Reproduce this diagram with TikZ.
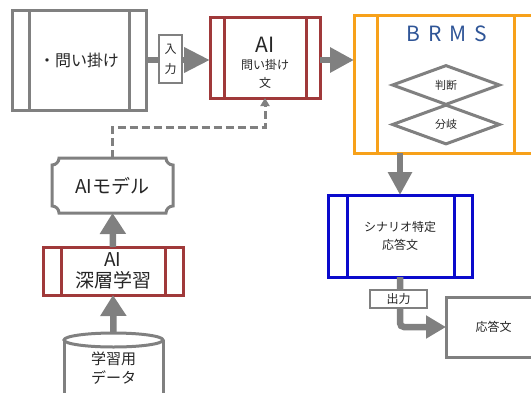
\documentclass[tikz,border=0pt]{standalone}
\usepackage{fontspec}
\setmainfont{Noto Sans CJK JP}
\usetikzlibrary{arrows.meta,shapes.geometric,calc}
\definecolor{gline}{HTML}{808080}
\definecolor{dred}{HTML}{A0393A}
\definecolor{orng}{HTML}{F7A11A}
\definecolor{bblue}{HTML}{0A0ACC}
\definecolor{brmsblue}{HTML}{2F5597}
\definecolor{txt}{HTML}{262626}
\begin{document}
\begin{tikzpicture}[x=1pt,y=-1pt,
  box/.style={draw=#1, line width=3pt, fill=white, inner sep=0pt, outer sep=0pt, align=center, text=txt},
  inner/.style={draw=#1, line width=3pt},
  fat/.style={draw=gline, line width=6.5pt, -{Triangle[length=24pt,width=24pt]}, color=gline},
  tag/.style={draw=gline, line width=2.5pt, fill=white, inner sep=0pt, outer sep=0pt, align=center, text=txt},
  dia/.style={draw=gline, line width=3pt, diamond, aspect=2.7, inner sep=0pt, minimum width=108pt, minimum height=40pt, text=txt, font=\fontsize{11}{11}\selectfont},
  dashln/.style={draw=gline, line width=3pt, dash pattern=on 8pt off 4pt, -{Triangle[length=8pt,width=9pt]}}]
\useasboundingbox (0,0) rectangle (531,392);
\clip (0,0) rectangle (531,392);

% top-left input box
\node[box=gline, minimum width=134pt, minimum height=100pt, font=\fontsize{16}{16}\selectfont] (q) at (79,60) {・問い掛け};
\draw[inner=gline] ([xshift=17pt]q.north west) -- ([xshift=17pt]q.south west);
\draw[inner=gline] ([xshift=-17pt]q.north east) -- ([xshift=-17pt]q.south east);

% AI box
\node[box=dred, minimum width=110pt, minimum height=81pt] (ai) at (265,57.5) {};
\draw[inner=dred] ([xshift=14pt]ai.north west) -- ([xshift=14pt]ai.south west);
\draw[inner=dred] ([xshift=-14pt]ai.north east) -- ([xshift=-14pt]ai.south east);
\node[text=txt, align=center, inner sep=0pt, font=\fontsize{12}{17}\selectfont] (ait) at (265,63)
  {{\fontsize{21}{21}\selectfont AI}\\[0pt]問い掛け\\[0.5pt]文};

\draw[fat, -{Triangle[length=26pt,width=24pt]}] (q.east) -- (q.east -| ai.west);
\node[tag, minimum width=23pt, minimum height=48pt, font=\fontsize{12}{20}\selectfont] (inp) at (170.5,59) {入\\力};

% BRMS
\node[box=orng, minimum width=183pt, minimum height=138pt] (brms) at (445.5,84) {};
\draw[inner=orng] ([xshift=23pt]brms.north west) -- ([xshift=23pt]brms.south west);
\draw[inner=orng] ([xshift=-23pt]brms.north east) -- ([xshift=-23pt]brms.south east);
\node[text=brmsblue, font=\fontsize{21}{21}\selectfont] (brmst) at (447,34) {B\hspace{8pt}R\hspace{8pt}M\hspace{8pt}S};
\node[dia] (d1) at (446,85) {判断};
\node[dia] (d2) at (446,124.5) {分岐};

\draw[fat] (ai.east |- q.east) -- (brms.west |- q.east);

% scenario box
\node[box=bblue, minimum width=144pt, minimum height=82pt, font=\fontsize{12}{18}\selectfont] (sc) at (400,236) {シナリオ特定\\応答文};
\draw[inner=bblue] ([xshift=19pt]sc.north west) -- ([xshift=19pt]sc.south west);
\draw[inner=bblue] ([xshift=-18pt]sc.north east) -- ([xshift=-18pt]sc.south east);
\draw[fat, -{Triangle[length=23pt,width=23pt]}] (sc.north |- brms.south) -- (sc.north);

% response box
\node[box=gline, minimum width=95pt, minimum height=60pt, font=\fontsize{12}{12}\selectfont] (rs) at (493.5,327) {応答文};
\draw[fat, rounded corners=4pt, -{Triangle[length=20pt,width=22pt]}] (sc.south) |- (rs.west);
\node[tag, minimum width=57pt, minimum height=18pt, font=\fontsize{12}{12}\selectfont] (out) at (398.5,299) {出力};

% AI model (plaque shape)
\draw[gline, line width=3pt, fill=white]
  (59,158) -- (166,158) .. controls (166,161.9) and (169.1,165) .. (173,165)
  -- (173,206) .. controls (169.1,206) and (166,209.1) .. (166,213)
  -- (59,213) .. controls (59,209.1) and (55.9,206) .. (52,206)
  -- (52,165) .. controls (55.9,165) and (59,161.9) .. (59,158) -- cycle;
\node[minimum width=121pt, minimum height=55pt, inner sep=0pt, outer sep=0pt, text=txt, font=\fontsize{19}{19}\selectfont] (model) at (112.5,185.5) {AIモデル};

% deep learning box
\node[box=dred, minimum width=140pt, minimum height=48pt, font=\fontsize{19}{21}\selectfont] (deep) at (113,271) {AI\\深層学習};
\draw[inner=dred] ([xshift=18pt]deep.north west) -- ([xshift=18pt]deep.south west);
\draw[inner=dred] ([xshift=-18pt]deep.north east) -- ([xshift=-18pt]deep.south east);

% cylinder
\draw[gline, line width=3pt, fill=white] (64,340) -- (64,400) -- (163,400) -- (163,340);
\draw[gline, line width=3pt, fill=white] (113.5,340) ellipse [x radius=49.5pt, y radius=7pt];
\node[minimum width=99pt, minimum height=66pt, inner sep=0pt, outer sep=0pt, text=txt, align=center, font=\fontsize{15}{19}\selectfont] (cyl) at (113.5,368) {学習用\\データ};

\draw[fat, -{Triangle[length=21pt,width=25pt]}] (deep.north) -- (model.south);
\draw[fat, -{Triangle[length=21pt,width=25pt]}] (cyl.north |- 0,333) -- (deep.south);

% dashed feedback
\draw[dashln] (model.north) |- ([yshift=-29pt]ai.south) -- (ai.south);
\end{tikzpicture}
\end{document}
